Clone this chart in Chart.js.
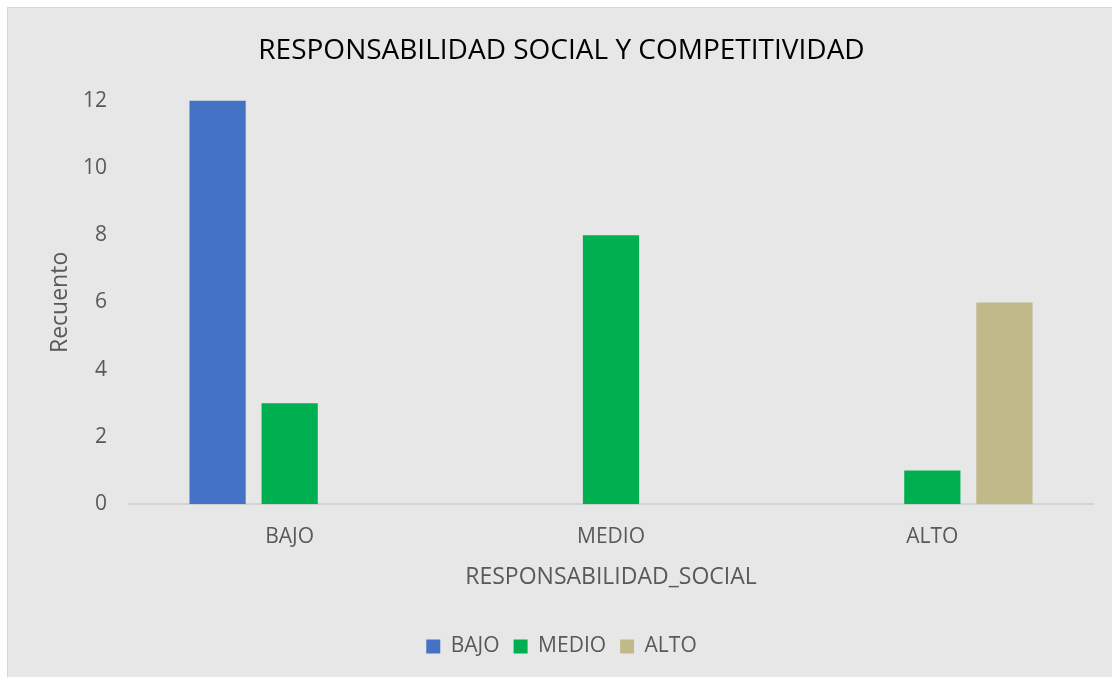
<!DOCTYPE html>
<html lang="es">
<head>
    <meta charset="UTF-8">
    <title>Responsabilidad social y competitividad</title>
    <script src="https://cdn.jsdelivr.net/npm/chart.js"></script>
    <style>
        html, body { margin: 0; padding: 0; background: #ffffff; }
        #wrap { width: 1112px; height: 677px; }
    </style>
</head>
<body>
    <div id="wrap"><canvas id="rsChart"></canvas></div>
    <script>
        const categories = ['BAJO', 'MEDIO', 'ALTO'];
        // conteos por nivel de competitividad (null = sin barra)
        const serieBajo = [12, null, null];
        const serieMedio = [3, 8, 1];
        const serieAlto = [null, null, 6];
        const yTicks = [0, 2, 4, 6, 8, 10, 12];

        const fontFamily = "'Open Sans', 'Liberation Sans', sans-serif";

        // fondo gris con borde, como el cuadro de Excel
        const fondo = {
            id: 'fondo',
            beforeDraw(chart) {
                const c = chart.ctx;
                c.save();
                c.fillStyle = '#ffffff';
                c.fillRect(0, 0, chart.width, chart.height);
                c.fillStyle = '#e7e7e7';
                c.fillRect(8, 8, chart.width - 8, chart.height - 8);
                c.strokeStyle = '#d6d6d6';
                c.lineWidth = 1;
                c.strokeRect(7.5, 7.5, chart.width, chart.height);
                c.restore();
            }
        };

        const ctx = document.getElementById('rsChart').getContext('2d');
        new Chart(ctx, {
            type: 'bar',
            data: {
                labels: categories,
                datasets: [
                    { label: 'BAJO', data: serieBajo, backgroundColor: '#4472c4' },
                    { label: 'MEDIO', data: serieMedio, backgroundColor: '#00b050' },
                    { label: 'ALTO', data: serieAlto, backgroundColor: '#c0b98a' }
                ]
            },
            options: {
                responsive: true,
                maintainAspectRatio: false,
                animation: false,
                layout: { padding: { left: 30, right: 19, top: 10, bottom: 10 } },
                datasets: {
                    bar: { categoryPercentage: 0.673, barPercentage: 0.78 }
                },
                scales: {
                    x: {
                        grid: { display: false },
                        border: { color: '#d4d4d4', width: 2 },
                        ticks: { color: '#595959', font: { family: fontFamily, size: 21 }, padding: 12 },
                        title: {
                            display: true,
                            text: 'RESPONSABILIDAD_SOCIAL',
                            color: '#595959',
                            font: { family: fontFamily, size: 23 },
                            padding: { top: 2, bottom: 31 }
                        }
                    },
                    y: {
                        min: 0,
                        max: 12,
                        grid: { display: false },
                        border: { display: false },
                        afterBuildTicks(axis) {
                            axis.ticks = yTicks.map(v => ({ value: v }));
                        },
                        afterFit(axis) {
                            axis.width = 99;
                        },
                        ticks: { color: '#595959', font: { family: fontFamily, size: 21 }, padding: 14 },
                        title: {
                            display: true,
                            text: 'Recuento',
                            color: '#595959',
                            font: { family: fontFamily, size: 23 },
                            padding: { top: 17, bottom: 0 }
                        }
                    }
                },
                plugins: {
                    title: {
                        display: true,
                        text: 'RESPONSABILIDAD SOCIAL Y COMPETITIVIDAD',
                        color: '#000000',
                        font: { family: fontFamily, size: 28, weight: 'normal' },
                        padding: { top: 24, bottom: 33 }
                    },
                    legend: {
                        position: 'bottom',
                        labels: {
                            color: '#595959',
                            font: { family: fontFamily, size: 21 },
                            boxWidth: 14,
                            boxHeight: 14,
                            padding: 14
                        }
                    },
                    tooltip: { enabled: false }
                }
            },
            plugins: [fondo]
        });
    </script>
</body>
</html>
